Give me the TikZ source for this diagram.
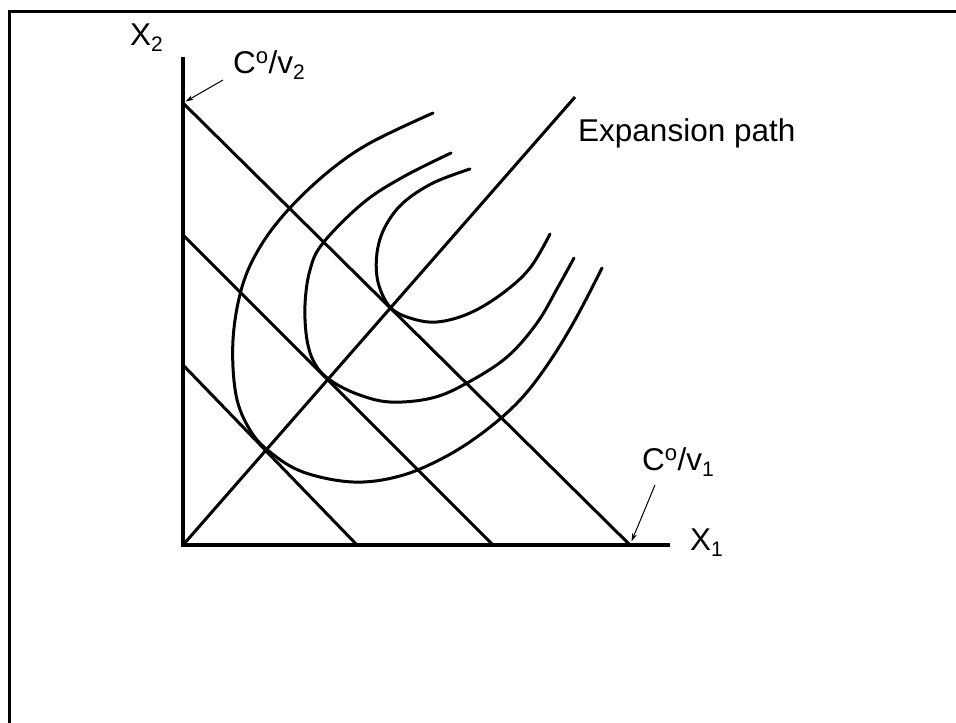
\documentclass[tikz,border=0pt]{standalone}
\usepackage{fontspec}
\setmainfont{Liberation Sans}
\usetikzlibrary{arrows.meta,positioning}
% lowered index, as the axis labels print it
\newcommand{\lowidx}[1]{\raisebox{-0.22em}{\fontsize{21}{24}\selectfont #1}}

\begin{document}
\begin{tikzpicture}[
        x=1pt, y=-1pt,
        font=\fontsize{31.5}{36}\selectfont,
        axis/.style={line width=4pt},
        budget/.style={line width=3pt},
        iso/.style={line width=3pt, smooth, tension=0.6, line cap=round},
        lbl/.style={inner sep=0pt, anchor=base west},
        ptr/.style={-{Stealth[length=8pt,width=5pt]}, line width=1pt}
    ]
\useasboundingbox (0,0) rectangle (956,723);
% frame
        \draw[line width=3pt] (956,11) -- (9,11) -- (9,723);
% axes
        \coordinate (O)    at (183,545);
        \coordinate (ytop) at (183,57);
        \coordinate (xend) at (670,545);
        \draw[axis] (ytop) -- (O) -- (xend);
% isocost lines
        \coordinate (a1) at (183,365);
        \coordinate (b1) at (357,545);
        \coordinate (a2) at (183,235);
        \coordinate (b2) at (493,545);
        \coordinate (a3) at (183,103);
        \coordinate (b3) at (630,545);
        \draw[budget] (a1) -- (b1);
        \draw[budget] (a2) -- (b2);
        \draw[budget] (a3) -- (b3);
% expansion path
        \coordinate (ep) at (575,97);
        \draw[budget] (O) -- (ep);
% isoquants
        \draw[iso] plot coordinates {(433,113) (370,143) (328,172) (288,210)
            (260,247) (242,287) (233,340) (236,395) (250,430) (270,452)
            (303,472) (353,482) (400,476) (445,457) (485,431) (520,400)
            (548,364) (575,320) (602,268)};
        \draw[iso] plot coordinates {(451,153) (403,177) (363,203) (323,243)
            (310,270) (305,305) (307,340) (315,364) (330,380) (357,394)
            (390,402) (432,398) (467,383) (507,357) (537,323) (558,287)
            (574,258)};
        \draw[iso] plot coordinates {(470,169) (433,183) (403,203) (385,227)
            (377,253) (378,282) (390,307) (410,318) (437,322) (470,313)
            (503,293) (530,268) (550,234)};
% labels
        \node[lbl] (lx2) at (130,45)  {X\lowidx{2}};
        \node[lbl] (lx1) at (690,550) {X\lowidx{1}};
        \node[lbl] (cv2) at (233,73)  {C\textsuperscript{o}/v\lowidx{2}};
        \node[lbl] (cv1) at (642,470) {C\textsuperscript{o}/v\lowidx{1}};
        \node[lbl] (lep) at (578,141) {Expansion path};
% pointers to the intercepts
        \draw[ptr, shorten >=3pt] ([xshift=-10pt,yshift=-7pt]cv2.base west) -- (a3);
        \draw[ptr, shorten >=4pt] ([xshift=13pt,yshift=-15pt]cv1.base west) -- (b3);
\end{tikzpicture}
\end{document}
